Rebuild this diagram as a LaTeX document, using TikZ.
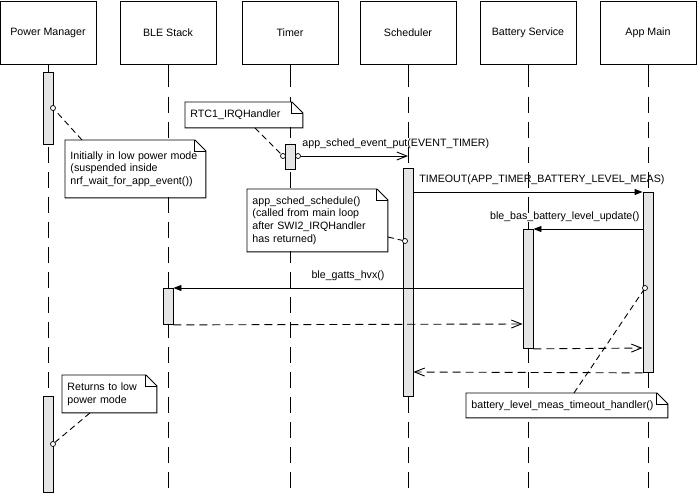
\documentclass[tikz,border=0pt]{standalone}
\usepackage{fontspec}
\setmainfont{Liberation Sans}
\usetikzlibrary{arrows.meta}
\newcommand{\notefold}[1]{%
  \draw[noteline] (#1.north west) -- ([xshift=-11pt]#1.north east) -- ([yshift=-11pt]#1.north east) -- (#1.south east) -- (#1.south west) -- cycle;
  \draw[noteline] ([xshift=-11pt]#1.north east) |- ([yshift=-11pt]#1.north east);}
\begin{document}
\begin{tikzpicture}[x=1pt,y=-1pt,line width=0.9pt,
  font=\fontsize{10.67}{12.6}\selectfont,
  head/.style={draw, minimum width=96pt, minimum height=63.5pt, inner sep=0pt, anchor=north},
  life/.style={dash pattern=on 16pt off 9pt},
  bar/.style={draw, fill=black!10, minimum width=10pt, inner sep=0pt, anchor=north},
  note/.style={fill=white, anchor=north west, inner xsep=5pt, inner ysep=0pt, align=left},
  noteline/.style={line width=0.9pt},
  conn/.style={dash pattern=on 6pt off 4pt},
  dot/.style={circle, draw, fill=white, inner sep=0pt, minimum size=5pt, line width=0.7pt},
  sync/.style={-{Triangle[length=8pt,width=6pt]}},
  async/.style={-{Straight Barb[length=10pt,width=8pt]}},
  ret/.style={dash pattern=on 8pt off 5pt, -{Straight Barb[length=10pt,width=8pt]}},
  lbl/.style={inner sep=0pt}
]
\useasboundingbox (0,0) rectangle (697,493);
\coordinate (bottom) at (0,493);
% headers
\node[head] (hPM) at (48,0.5) {Power Manager};
\node[head] (hBle) at (168,0.5) {BLE Stack};
\node[head] (hT) at (290,0.5) {Timer};
\node[head] (hSch) at (408,0.5) {Scheduler};
\node[head] (hBat) at (528,0.5) {Battery Service};
\node[head] (hApp) at (648,0.5) {App Main};
% lifelines
\foreach \h in {hPM,hBle,hT,hSch,hBat,hApp}{
  \draw (\h.south) -- ++(0,22);
  \draw[life] ([yshift=-32pt]\h.south) -- (\h.south |- bottom);
}
% activation bars
\node[bar, minimum height=72pt] (bPM1) at (48,72) {};
\node[bar, minimum height=96pt] (bPM2) at (48,396) {};
\node[bar, minimum height=25pt] (bT) at (290,144) {};
\node[bar, minimum height=228pt] (bSch) at (408,168) {};
\node[bar, minimum height=119pt] (bBat) at (528,229) {};
\node[bar, minimum height=180pt] (bApp) at (648,192) {};
\node[bar, minimum height=36pt] (bBle) at (168,288) {};
% message start circle
\node[dot] (cM) at (298,156) {};
% messages
\draw[async] (cM) -- (hSch.south |- cM);
\node[lbl, anchor=base west] (l1) at (302,146.5) {app\_sched\_event\_put(EVENT\_TIMER)};
\draw[sync] ([yshift=-24pt]bSch.north east) -- (bApp.north west);
\node[lbl, anchor=base west] (l2) at (419,182.5) {TIMEOUT(APP\_TIMER\_BATTERY\_LEVEL\_MEAS)};
\draw[sync] ([yshift=-37pt]bApp.north west) -- (bBat.north east);
\node[lbl, anchor=base east] (l3) at (640,219.5) {ble\_bas\_battery\_level\_update()};
\draw[sync] ([yshift=-59pt]bBat.north west) -- (bBle.north east);
\node[lbl, anchor=base] (l4) at (348,278.5) {ble\_gatts\_hvx()};
\draw[ret] (bBle.south east) -- ([yshift=-95pt]bBat.north west);
\draw[ret] (bBat.south east) -- ([yshift=-156pt]bApp.north west);
\draw[ret] (bApp.south west) -- ([yshift=-204pt]bSch.north east);
% notes
\node[note, text width=107pt, minimum height=25pt] (n1) at (185,102) {RTC1\_IRQHandler};
\notefold{n1}
\node[note, text width=130pt, minimum height=57pt] (n2) at (65,140) {Initially in low power mode\\(suspended inside\\nrf\_wait\_for\_app\_event())};
\notefold{n2}
\node[note, text width=130pt, minimum height=62pt] (n3) at (247,189) {app\_sched\_schedule()\\(called from main loop\\after SWI2\_IRQHandler\\has returned)};
\notefold{n3}
\node[note, text width=84pt, minimum height=37pt] (n4) at (62,375) {Returns to low\\power mode};
\notefold{n4}
\node[note, text width=191pt, minimum height=24pt] (n5) at (466,393) {battery\_level\_meas\_timeout\_handler()};
\notefold{n5}
% note anchors
\node[dot] (cPM1) at (53,108) {};
\node[dot] (cT) at (283,156) {};
\node[dot] (cS) at (405,241) {};
\node[dot] (cA) at (645,288) {};
\node[dot] (cPM2) at (53,444) {};
\draw[conn] ([xshift=17pt]n2.north west) -- (cPM1);
\draw[conn] ([xshift=70pt]n1.south west) -- (cT);
\draw[conn] ([yshift=-48pt]n3.north east) -- (cS);
\draw[conn] ([xshift=108pt]n5.north west) -- (cA);
\draw[conn] ([xshift=28pt]n4.south west) -- (cPM2);
\end{tikzpicture}
\end{document}
